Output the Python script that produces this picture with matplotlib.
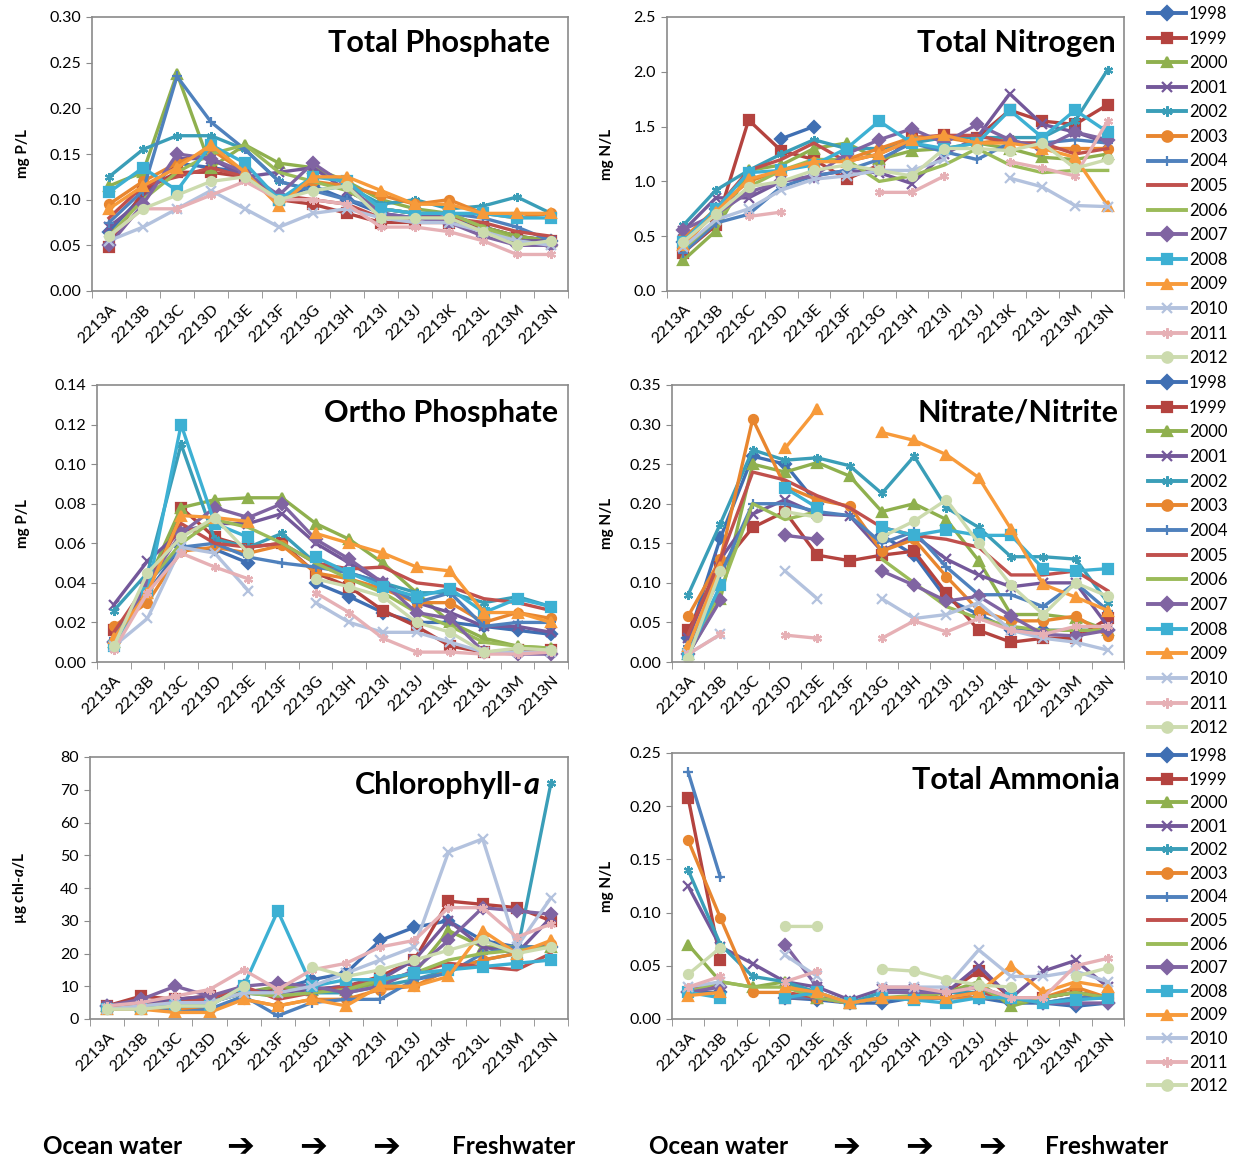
import numpy as np
import matplotlib.pyplot as plt
from matplotlib.lines import Line2D
from matplotlib.ticker import FormatStrFormatter, MultipleLocator

plt.rcParams['font.family'] = ['Lato', 'DejaVu Sans']
plt.rcParams['mathtext.fontset'] = 'custom'
plt.rcParams['mathtext.it'] = 'Lato:italic:bold'
plt.rcParams['mathtext.rm'] = 'Lato:bold'

nan = np.nan

sites = ['2213A', '2213B', '2213C', '2213D', '2213E', '2213F', '2213G',
         '2213H', '2213I', '2213J', '2213K', '2213L', '2213M', '2213N']
years = ['1998', '1999', '2000', '2001', '2002', '2003', '2004', '2005',
         '2006', '2007', '2008', '2009', '2010', '2011', '2012']

colors = ['#3F6FB3', '#B4433F', '#8FB04E', '#74589A', '#3A9EB8', '#E8862F',
          '#4F81BD', '#C0504D', '#9BBB59', '#8064A2', '#3DB0D3', '#F79A3A',
          '#B3C2DE', '#E6B0B5', '#CCDBAE']
markers = ['D', 's', '^', 'x', (6, 2, 0), 'o', '+', '', '',
           'D', 's', '^', 'x', (6, 2, 0), 'o']

# Total Phosphate (mg P/L), one row per year
tp = [
    [0.065, 0.105, 0.14, 0.135, 0.13, 0.10, 0.115, 0.10, 0.085, 0.08, 0.08, 0.07, 0.06, 0.055],
    [0.048, 0.11, 0.13, 0.13, 0.125, 0.10, 0.095, 0.085, 0.075, 0.075, 0.075, 0.07, 0.06, 0.055],
    [0.115, 0.13, 0.238, 0.135, 0.16, 0.14, 0.135, 0.12, 0.10, 0.09, 0.085, 0.07, 0.06, 0.055],
    [0.07, 0.10, 0.145, 0.145, 0.125, 0.13, 0.135, 0.11, 0.09, 0.085, 0.08, 0.065, 0.055, 0.055],
    [0.125, 0.155, 0.17, 0.17, 0.155, 0.12, 0.11, 0.115, 0.095, 0.10, 0.09, 0.093, 0.103, 0.085],
    [0.095, 0.12, 0.14, 0.155, 0.13, 0.10, 0.12, 0.115, 0.105, 0.095, 0.10, 0.085, 0.08, 0.085],
    [0.075, 0.11, 0.235, 0.185, 0.155, 0.12, 0.11, 0.10, 0.09, 0.085, 0.085, 0.08, 0.07, 0.055],
    [0.08, 0.115, 0.125, 0.135, 0.125, 0.105, 0.10, 0.095, 0.08, 0.08, 0.08, 0.075, 0.065, 0.06],
    [0.06, 0.10, 0.13, 0.15, 0.16, 0.13, 0.12, 0.11, 0.09, 0.085, 0.085, 0.07, 0.055, 0.05],
    [0.05, 0.095, 0.15, 0.145, 0.13, 0.105, 0.14, 0.115, 0.085, 0.08, 0.075, 0.06, 0.05, 0.05],
    [0.108, 0.135, 0.11, 0.16, 0.14, 0.10, 0.125, 0.12, 0.09, 0.085, 0.085, 0.085, 0.08, 0.08],
    [0.09, 0.115, 0.135, 0.16, 0.13, 0.093, 0.125, 0.125, 0.11, 0.095, 0.095, 0.085, 0.085, 0.085],
    [0.055, 0.07, 0.09, 0.11, 0.09, 0.07, 0.085, 0.09, 0.08, 0.075, 0.075, 0.065, 0.055, 0.05],
    [0.06, 0.09, 0.09, 0.105, 0.12, 0.10, 0.10, 0.095, 0.07, 0.07, 0.065, 0.055, 0.04, 0.04],
    [0.06, 0.09, 0.105, 0.12, 0.125, 0.10, 0.11, 0.115, 0.08, 0.08, 0.08, 0.065, 0.05, 0.055],
]

# Total Nitrogen (mg N/L)
tn = [
    [0.45, 0.75, nan, 1.39, 1.5, nan, nan, nan, nan, nan, nan, nan, nan, nan],
    [0.35, 0.6, 1.56, 1.28, 1.2, 1.02, 1.15, 1.4, 1.42, 1.4, 1.65, 1.55, 1.52, 1.7],
    [0.28, 0.55, 1.1, 1.15, 1.3, 1.35, 1.2, 1.28, 1.3, 1.35, 1.3, 1.22, 1.2, 1.25],
    [0.55, 0.85, 0.85, 1.0, 1.05, 1.1, 1.08, 0.98, 1.25, 1.4, 1.8, 1.52, 1.45, 1.35],
    [0.6, 0.92, 1.1, 1.25, 1.38, 1.3, 1.3, 1.35, 1.4, 1.4, 1.4, 1.4, 1.55, 2.02],
    [0.48, 0.75, 1.0, 1.1, 1.18, 1.2, 1.3, 1.4, 1.4, 1.35, 1.38, 1.3, 1.3, 1.3],
    [0.35, 0.62, 0.7, 0.95, 1.05, 1.1, 1.2, 1.35, 1.27, 1.2, 1.35, 1.35, 1.38, 1.35],
    [0.4, 0.75, 1.1, 1.2, 1.35, 1.18, 1.25, 1.38, 1.42, 1.42, 1.35, 1.35, 1.25, 1.3],
    [0.38, 0.65, 0.95, 1.1, 1.2, 1.2, 1.0, 1.05, 1.15, 1.3, 1.15, 1.08, 1.1, 1.1],
    [0.56, 0.7, 0.9, 1.0, 1.05, 1.25, 1.38, 1.48, 1.35, 1.52, 1.38, 1.3, 1.45, 1.38],
    [0.45, 0.75, 1.08, 1.1, 1.15, 1.3, 1.55, 1.35, 1.3, 1.35, 1.65, 1.4, 1.65, 1.45],
    [0.42, 0.72, 1.02, 1.1, 1.18, 1.18, 1.25, 1.38, 1.42, 1.35, 1.35, 1.3, 1.22, 0.78],
    [0.4, 0.65, 0.75, 0.92, 1.02, 1.05, 1.1, 1.1, 1.2, nan, 1.03, 0.95, 0.78, 0.77],
    [nan, nan, 0.68, 0.72, nan, nan, 0.9, 0.9, 1.05, nan, 1.18, 1.12, 1.05, 1.55],
    [0.45, 0.7, 0.95, 1.0, 1.1, 1.15, 1.1, 1.05, 1.3, 1.3, 1.28, 1.35, 1.12, 1.2],
]

# Ortho Phosphate (mg P/L)
op = [
    [0.01, 0.035, 0.058, 0.057, 0.05, nan, 0.04, 0.033, 0.025, 0.02, 0.02, 0.018, 0.016, 0.014],
    [0.016, 0.035, 0.078, 0.063, 0.058, 0.06, 0.045, 0.038, 0.026, 0.018, 0.008, 0.005, 0.006, 0.006],
    [0.01, 0.04, 0.078, 0.082, 0.083, 0.083, 0.07, 0.062, 0.05, 0.035, 0.02, 0.012, 0.008, 0.007],
    [0.029, 0.051, 0.066, 0.07, 0.07, 0.075, 0.06, 0.05, 0.04, 0.03, 0.025, 0.018, 0.018, 0.015],
    [0.026, 0.045, 0.11, 0.062, 0.058, 0.065, 0.05, 0.045, 0.04, 0.035, 0.035, 0.03, 0.033, 0.028],
    [0.018, 0.03, 0.056, 0.058, 0.055, 0.059, 0.045, 0.042, 0.037, 0.03, 0.03, 0.02, 0.025, 0.022],
    [0.012, 0.04, 0.058, 0.06, 0.053, 0.05, 0.048, 0.045, 0.04, 0.03, 0.035, 0.018, 0.02, 0.02],
    [0.015, 0.04, 0.07, 0.06, 0.058, 0.06, 0.05, 0.047, 0.048, 0.04, 0.038, 0.032, 0.03, 0.026],
    [0.01, 0.04, 0.06, 0.072, 0.068, 0.06, 0.05, 0.042, 0.035, 0.025, 0.018, 0.01, 0.008, 0.007],
    [0.01, 0.04, 0.065, 0.078, 0.073, 0.08, 0.062, 0.052, 0.04, 0.025, 0.022, 0.005, 0.004, 0.004],
    [0.008, 0.035, 0.12, 0.07, 0.063, nan, 0.053, 0.045, 0.038, 0.033, 0.037, 0.025, 0.032, 0.028],
    [0.012, 0.035, 0.074, 0.073, 0.071, nan, 0.065, 0.06, 0.055, 0.048, 0.046, 0.025, 0.025, 0.02],
    [0.008, 0.022, 0.058, 0.055, 0.036, nan, 0.03, 0.02, 0.015, 0.015, 0.01, 0.005, 0.005, 0.005],
    [0.006, 0.035, 0.055, 0.048, 0.042, nan, 0.035, 0.025, 0.012, 0.005, 0.005, 0.004, 0.004, 0.005],
    [0.008, 0.045, 0.063, 0.073, 0.055, nan, 0.042, 0.038, 0.033, 0.02, 0.015, 0.005, 0.007, 0.006],
]

# Nitrate/Nitrite (mg N/L)
nn = [
    [0.03, 0.157, 0.26, 0.25, 0.2, nan, 0.16, 0.135, 0.08, 0.06, 0.04, 0.04, 0.04, 0.04],
    [0.04, 0.12, 0.17, 0.19, 0.135, 0.128, 0.135, 0.14, 0.087, 0.04, 0.025, 0.03, 0.03, 0.055],
    [0.01, 0.08, 0.25, 0.24, 0.252, 0.235, 0.19, 0.2, 0.18, 0.128, 0.06, 0.06, 0.055, 0.04],
    [0.03, 0.13, 0.187, 0.205, 0.187, 0.185, 0.14, 0.16, 0.13, 0.11, 0.095, 0.1, 0.1, 0.045],
    [0.085, 0.175, 0.268, 0.255, 0.258, 0.248, 0.213, 0.26, 0.195, 0.17, 0.133, 0.133, 0.13, 0.075],
    [0.058, 0.13, 0.307, 0.222, 0.205, 0.197, 0.14, 0.155, 0.108, 0.065, 0.052, 0.052, 0.058, 0.033],
    [0.02, 0.11, 0.2, 0.2, 0.19, 0.185, 0.15, 0.165, 0.12, 0.085, 0.085, 0.07, 0.1, 0.065],
    [0.035, 0.13, 0.24, 0.23, 0.21, 0.195, 0.17, 0.16, 0.155, 0.145, 0.11, 0.11, 0.115, 0.09],
    [0.01, 0.09, 0.2, 0.18, 0.19, nan, 0.13, 0.1, 0.07, 0.055, 0.045, 0.04, 0.04, 0.04],
    [0.01, 0.078, nan, 0.16, 0.155, nan, 0.115, 0.097, 0.077, 0.083, 0.058, 0.035, 0.033, 0.04],
    [0.01, 0.097, nan, 0.22, 0.195, nan, 0.17, 0.16, 0.167, 0.16, 0.16, 0.118, 0.115, 0.118],
    [0.02, 0.12, nan, 0.27, 0.32, nan, 0.29, 0.28, 0.262, 0.233, 0.168, 0.098, 0.082, 0.065],
    [0.01, 0.035, nan, 0.115, 0.08, nan, 0.08, 0.055, 0.06, 0.075, 0.04, 0.03, 0.025, 0.015],
    [0.01, 0.035, nan, 0.034, 0.03, nan, 0.03, 0.052, 0.038, 0.055, 0.04, 0.035, 0.045, 0.045],
    [0.005, 0.115, nan, 0.19, 0.183, nan, 0.158, 0.178, 0.205, 0.15, 0.097, 0.06, 0.1, 0.083],
]

# Chlorophyll-a (ug chl-a/L)
chl = [
    [4, 5, 6, 6, 8, 9, 12, 14, 24, 28, 30, 24, 22, 22],
    [4, 7, 6, 7, 8, 9, 9, 10, 13, 18, 36, 35, 34, 30],
    [4, 4, 5, 5, 8, 10, 9, 9, 11, 14, 27, 22, 22, 22],
    [4, 5, 6, 7, 9, 8, 9, 10, 12, 18, 30, 22, 20, 31],
    [3, 4, 4, 5, 8, 7, 8, 8, 10, 12, 15, 18, 20, 72],
    [3, 3, 3, 3, 6, 4, 6, 6, 9, 10, 15, 18, 20, 23],
    [4, 4, 2, 3, 7, 1, 5, 6, 6, 12, 14, 20, 22, 22],
    [4, 4, 5, 6, 10, 6, 8, 10, 12, 14, 17, 16, 15, 20],
    [3, 4, 4, 5, 8, 7, 8, 9, 12, 14, 18, 20, 21, 22],
    [4, 6, 10, 7, 10, 11, 10, 8, 10, 15, 24, 34, 33, 32],
    [3, 3, 4, 4, 10, 33, 10, 12, 12, 14, 15, 16, 17, 18],
    [3, 3, 2, 2, 6, 4, 6, 4, 10, 10, 13, 27, 20, 24],
    [3, 4, 5, 5, 8, 8, 10, 14, 18, 22, 51, 55, 22, 37],
    [4, 5, 7, 9, 15, 9, 15, 17, 22, 24, 34, 34, 25, 29],
    [3, 3, 4, 4, 10, nan, 16, 13, 15, 18, 21, 24, 20, 22],
]

# Total Ammonia (mg N/L)
nh3 = [
    [0.025, 0.025, nan, 0.02, 0.018, 0.015, 0.015, 0.02, 0.02, 0.02, 0.015, 0.015, 0.012, 0.015],
    [0.208, 0.055, nan, 0.02, 0.02, 0.015, 0.02, 0.02, 0.025, 0.045, 0.02, 0.02, 0.025, 0.02],
    [0.07, 0.035, 0.03, 0.035, 0.02, 0.015, 0.02, 0.02, 0.025, 0.035, 0.012, 0.02, 0.025, 0.02],
    [0.125, 0.068, 0.052, 0.035, 0.03, 0.018, 0.028, 0.028, 0.025, 0.05, 0.02, 0.045, 0.055, 0.03],
    [0.14, 0.07, 0.04, 0.035, 0.025, 0.015, 0.025, 0.025, 0.025, 0.025, 0.02, 0.015, 0.02, 0.02],
    [0.168, 0.095, 0.025, 0.025, 0.02, 0.015, 0.02, 0.02, 0.02, 0.02, 0.02, 0.02, 0.03, 0.02],
    [0.232, 0.133, nan, 0.02, 0.02, 0.015, 0.02, 0.02, 0.02, 0.025, 0.02, 0.015, 0.02, 0.02],
    [0.03, 0.03, nan, 0.025, 0.02, 0.015, 0.02, 0.02, 0.02, 0.025, 0.02, 0.02, 0.025, 0.02],
    [0.025, 0.035, 0.03, 0.03, 0.02, 0.015, 0.02, 0.022, 0.025, 0.03, 0.015, 0.02, 0.025, 0.02],
    [0.025, 0.03, nan, 0.07, 0.03, nan, 0.025, 0.025, 0.025, 0.03, 0.02, 0.015, 0.015, 0.015],
    [0.025, 0.02, nan, 0.02, 0.025, 0.015, 0.02, 0.018, 0.015, 0.02, 0.02, 0.015, 0.018, 0.02],
    [0.022, 0.025, nan, 0.03, 0.025, 0.015, 0.02, 0.02, 0.02, 0.025, 0.05, 0.025, 0.035, 0.03],
    [0.03, 0.035, nan, 0.06, 0.04, nan, 0.03, 0.03, 0.03, 0.065, 0.04, 0.04, 0.045, 0.035],
    [0.03, 0.04, nan, 0.035, 0.045, nan, 0.03, 0.03, 0.025, 0.03, 0.02, 0.02, 0.05, 0.057],
    [0.042, 0.067, nan, 0.087, 0.087, nan, 0.047, 0.045, 0.037, 0.032, 0.03, nan, 0.04, 0.048],
]

W, H = 1238, 1162
fig = plt.figure(figsize=(W / 100, H / 100), dpi=100)


def box(left, top, right, bottom):
    return [left / W, 1 - bottom / H, (right - left) / W, (bottom - top) / H]


panels = [
    # data, rect, ymax, step, fmt, ylabel, title, title xy, label x
    (tp, box(92, 17, 568, 291), 0.30, 0.05, '%.2f', 'mg P/L', 'Total Phosphate', (0.962, 0.955), -0.13),
    (tn, box(667, 17, 1124, 291), 2.5, 0.5, '%.1f', 'mg N/L', 'Total Nitrogen', (0.983, 0.955), -0.115),
    (op, box(97, 385, 568, 662), 0.14, 0.02, '%.2f', 'mg P/L', 'Ortho Phosphate', (0.98, 0.95), -0.142),
    (nn, box(672, 385, 1124, 662), 0.35, 0.05, '%.2f', 'mg N/L', 'Nitrate/Nitrite', (0.988, 0.95), -0.128),
    (chl, box(90, 757, 568, 1019), 80, 10, '%d', u'\u00b5g chl-$\\it{a}$/L', None, (0.94, 0.945), -0.128),
    (nh3, box(672, 753, 1124, 1019), 0.25, 0.05, '%.2f', 'mg N/L', 'Total Ammonia', (0.99, 0.95), -0.128),
]

x = np.arange(len(sites))
tsize = 22
for data, rect, ymax, step, fmt, ylab, title, txy, labx in panels:
    ax = fig.add_axes(rect)
    for i, row in enumerate(data):
        ax.plot(x, row, color=colors[i], marker=markers[i], lw=2.4, ms=6.5,
                mew=1.6, mec=colors[i], mfc=colors[i], zorder=2 + i * 0.01)
    ax.set_xlim(-0.5, len(sites) - 0.5)
    ax.set_ylim(0, ymax)
    ax.yaxis.set_major_locator(MultipleLocator(step))
    ax.yaxis.set_major_formatter(FormatStrFormatter(fmt))
    ax.set_xticks(x, sites, rotation=45, ha='right', va='top',
                  rotation_mode='anchor')
    ax.set_xticks(np.arange(-0.5, len(sites)), minor=True)
    ax.tick_params(axis='x', which='major', length=0, pad=8, labelsize=11.5)
    ax.tick_params(axis='x', which='minor', length=5, color='#8a8a8a')
    ax.tick_params(axis='y', length=4, color='#8a8a8a', labelsize=11.5, pad=4)
    for s in ax.spines.values():
        s.set_color('#8a8a8a')
        s.set_linewidth(1.2)
    ax.set_ylabel(ylab, fontsize=11, fontweight='bold')
    ax.yaxis.set_label_coords(labx, 0.5)
    if title:
        ax.text(txy[0], txy[1], title, transform=ax.transAxes, ha='right',
                va='top', fontsize=tsize, fontweight='bold', zorder=10)
    else:
        ta = ax.text(txy[0], txy[1], 'a', transform=ax.transAxes, ha='right',
                     va='top', fontsize=tsize, fontweight='bold',
                     style='italic', zorder=10)
        ax.annotate('Chlorophyll-', xy=(0, 0), xycoords=ta, ha='right',
                    va='bottom', fontsize=tsize, fontweight='bold', zorder=10)

# legends, one per row
handles = [Line2D([], [], color=colors[i], marker=markers[i], lw=2.8, ms=7.5,
                  mew=1.6, mec=colors[i], mfc=colors[i]) for i in range(len(years))]
for top_px, spacing in [(6, 0.515), (375, 0.52), (748, 0.455)]:
    fig.legend(handles, years, loc='upper left',
               bbox_to_anchor=(1148 / W, 1 - top_px / H), frameon=False,
               fontsize=12, handlelength=2.3, handletextpad=0.15,
               labelspacing=spacing, borderpad=0, borderaxespad=0)

# ocean -> freshwater captions
yb = 1 - 1147 / H
for x0, xa, xf in [(43, (240, 313, 386), 452), (649, (846, 919, 992), 1045)]:
    fig.text(x0 / W, yb, 'Ocean water', fontsize=17.5, fontweight='bold',
             ha='left', va='center')
    for xx in xa:
        fig.text(xx / W, yb, u'\u2794', fontsize=24, fontweight='bold',
                 ha='center', va='center', family='DejaVu Sans')
    fig.text(xf / W, yb, 'Freshwater', fontsize=17.5, fontweight='bold',
             ha='left', va='center')

fig.savefig('out.png', dpi=100, facecolor='white')
